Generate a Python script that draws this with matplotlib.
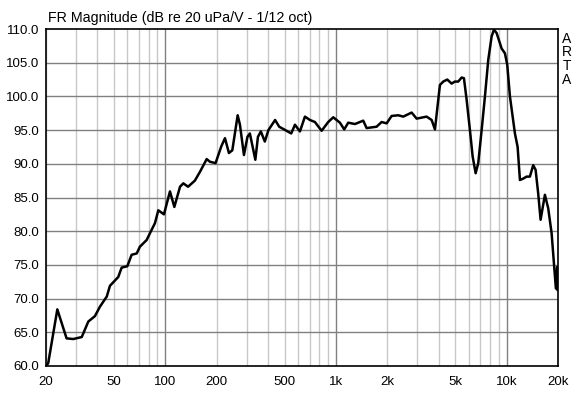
import matplotlib
matplotlib.use("Agg")
import matplotlib.pyplot as plt
from matplotlib.ticker import FixedLocator, NullFormatter

plt.rcParams["font.family"] = ["Liberation Sans", "DejaVu Sans"]

# frequency response
freq_hz = [
    20, 20.6, 23.3, 26.4, 28.9, 32.4, 35.4, 38.7, 41.4, 45.4, 47.4, 53, 55.5, 59.9,
    63.5, 68, 71, 77.8, 81.3, 87, 91, 98.2, 106.5, 113, 122, 127.5, 136, 149,
    159.6, 174.8, 182.7, 197, 213, 223.7, 236, 247, 265.5, 273.8, 289, 303, 313,
    337, 349, 363, 383, 402, 440, 465, 505, 547, 575, 615, 658, 704,
    753, 824, 901, 964, 1055, 1118, 1180, 1292, 1445, 1512, 1730, 1852, 1981, 2120,
    2318, 2479, 2776, 2970, 3246, 3398, 3636, 3802, 4066, 4252, 4488, 4762, 4977,
    5205, 5450, 5622, 5830, 6095, 6322, 6583, 6819, 7138, 7464, 7803, 8168, 8426,
    8738, 9349, 9773, 10083, 10456, 11186, 11600, 11966, 12510, 13092, 13690,
    14313, 14785, 15311, 15814, 16761, 17526, 18348, 19002, 19440, 19784, 19894,
]
spl_db = [
    60.0, 60.4, 68.4, 64.1, 64.0, 64.3, 66.6, 67.4, 68.8, 70.3, 71.9, 73.2, 74.6, 74.8,
    76.5, 76.7, 77.7, 78.7, 79.7, 81.2, 83.1, 82.5, 85.9, 83.6, 86.6, 87.1, 86.6, 87.5,
    88.8, 90.7, 90.3, 90.1, 92.6, 93.8, 91.6, 92.0, 97.2, 95.8, 91.3, 94.0, 94.5,
    90.6, 94.0, 94.8, 93.3, 95.0, 96.5, 95.5, 95.0, 94.5, 95.8, 94.8, 97.0, 96.5,
    96.2, 94.9, 96.2, 96.9, 96.1, 95.1, 96.1, 95.9, 96.4, 95.3, 95.5, 96.2, 96.0, 97.1,
    97.2, 97.0, 97.6, 96.7, 96.9, 97.0, 96.5, 95.1, 101.7, 102.2, 102.5, 101.9, 102.2,
    102.2, 102.8, 102.7, 99.5, 95.0, 91.1, 88.6, 90.1, 95.0, 100.0, 105.4, 108.9, 109.9,
    109.4, 107.1, 106.4, 104.7, 100.0, 94.5, 92.5, 87.6, 87.8, 88.1, 88.1,
    89.8, 89.1, 85.6, 81.7, 85.4, 83.4, 79.7, 74.7, 71.5, 74.7, 71.3,
]

x_major = [20, 50, 100, 200, 500, 1000, 2000, 5000, 10000, 20000]
x_labels = ["20", "50", "100", "200", "500", "1k", "2k", "5k", "10k", "20k"]
y_ticks = [60 + 5 * i for i in range(11)]

fig = plt.figure(figsize=(5.82, 3.93), dpi=100)
ax = fig.add_axes([46 / 582, 1 - 366 / 393, 512 / 582, 337 / 393])

ax.set_xscale("log")
ax.set_xlim(20, 20000)
ax.set_ylim(60, 110)

# grid: light minor verticals, darker decades and horizontals
minor_lines = [m * d for d in (10, 100, 1000, 10000) for m in range(2, 10) if 20 <= m * d <= 20000]
for f in minor_lines:
    ax.axvline(f, color="#c8c8c8", linewidth=1, zorder=1)
for f in (100, 1000, 10000):
    ax.axvline(f, color="#808080", linewidth=1, zorder=1)
for y in y_ticks[1:-1]:
    ax.axhline(y, color="#808080", linewidth=1, zorder=1)

ax.plot(freq_hz, spl_db, color="black", linewidth=1.8, zorder=3)

ax.xaxis.set_major_locator(FixedLocator(x_major))
ax.set_xticklabels(x_labels)
ax.xaxis.set_minor_formatter(NullFormatter())
ax.set_yticks(y_ticks)
ax.set_yticklabels([f"{y:.1f}" for y in y_ticks])
ax.tick_params(which="both", length=0, labelsize=9.5)
ax.tick_params(axis="x", pad=7)
ax.tick_params(axis="y", pad=5)

for sp in ax.spines.values():
    sp.set_linewidth(1.2)
    sp.set_color("black")

fig.text(48 / 582, 1 - 18 / 393, "FR Magnitude (dB re 20 uPa/V - 1/12 oct)",
         fontsize=10.3, ha="left", va="center")
for i, ch in enumerate("ARTA"):
    fig.text(567 / 582, 1 - (39 + i * 13.5) / 393, ch, fontsize=10, ha="center", va="center")

fig.savefig("out.png", dpi=100)
